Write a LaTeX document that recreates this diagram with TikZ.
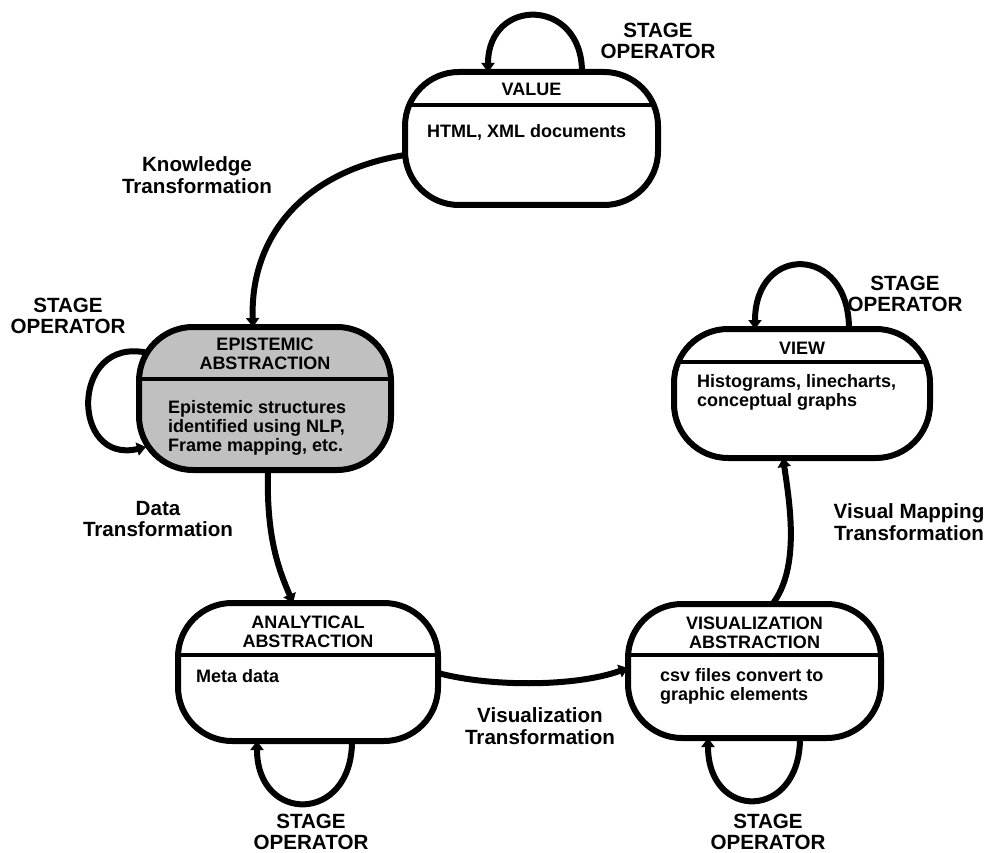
\documentclass[tikz,border=0pt]{standalone}
\usepackage{fontspec}
\setmainfont{Liberation Sans}
\usetikzlibrary{arrows.meta}
\definecolor{epigray}{RGB}{192,192,192}

\begin{document}
\begin{tikzpicture}[x=1pt,y=-1pt,
  statebox/.style={draw=black, line width=6pt, rounded corners=54pt,
    inner sep=0pt, outer sep=0pt, fill=white},
  divider/.style={line width=4pt},
  flow/.style={line width=6pt, -{Triangle[width=13pt,length=9pt]}},
  head/.style={font=\bfseries\fontsize{18}{19.5}\selectfont, align=center, inner sep=0pt},
  body/.style={font=\bfseries\fontsize{18}{18.8}\selectfont, align=left,
    anchor=base west, inner sep=0pt},
  lbl/.style={font=\bfseries\fontsize{20.6}{21.5}\selectfont, align=center, inner sep=0pt},
]
\useasboundingbox (0,0) rectangle (993,853);

% ---------- state boxes ----------
\node[statebox, minimum width=253pt, minimum height=133pt] (value) at (531.5,138.5) {};
\node[statebox, fill=epigray, minimum width=252pt, minimum height=143pt] (epi) at (265,398.5) {};
\node[statebox, minimum width=260pt, minimum height=138pt] (anal) at (308,672) {};
\node[statebox, minimum width=253pt, minimum height=134pt] (visu) at (754.5,671) {};
\node[statebox, minimum width=256pt, minimum height=129pt] (view) at (802,393.5) {};

% header dividers, clipped to the rounded outline of each box
\foreach \b/\h in {value/105, epi/379, anal/655, visu/655, view/362}{
  \begin{scope}
    \clip[rounded corners=54pt] (\b.north west) rectangle (\b.south east);
    \draw[divider] (\b.west |- 0,\h) -- (\b.east |- 0,\h);
  \end{scope}
}

% headers
\node[head] (valueH) at (531.5,89) {VALUE};
\node[head] (epiH) at (265,354) {EPISTEMIC\\ABSTRACTION};
\node[head] (analH) at (308,632) {ANALYTICAL\\ABSTRACTION};
\node[head] (visuH) at (754.5,633) {VISUALIZATION\\ABSTRACTION};
\node[head] (viewH) at (802,348) {VIEW};

% contents (base anchor sits on the last line)
\node[body] (valueB) at (427,138) {HTML, XML documents};
\node[body] (epiB) at (168,451) {Epistemic structures\\identified using NLP,\\Frame mapping, etc.};
\node[body] (analB) at (196,682) {Meta data};
\node[body] (visuB) at (660,700) {csv files convert to\\graphic elements};
\node[body] (viewB) at (697,406) {Histograms, linecharts,\\conceptual graphs};

% ---------- transformations ----------
\draw[flow] ([shift={(0,16.5)}]value.west)
  .. controls (300,172) and (250,240) .. ([shift={(-12,0)}]epi.north);
\draw[flow] ([shift={(3,0)}]epi.south)
  .. controls (266,540) and (280,572) .. ([shift={(-15,0)}]anal.north);
\draw[flow] ([shift={(0,1)}]anal.east)
  .. controls (490,687) and (575,687) .. ([shift={(0,-3)}]visu.west);
\draw[flow] ([shift={(18,0)}]visu.north)
  .. controls (800,568) and (790,505) .. ([shift={(-19,0)}]view.south);

% ---------- stage operators ----------
\draw[flow] ([shift={(50.5,0)}]value.north)
  .. controls (582,-3) and (488,-3) .. ([shift={(-43.5,0)}]value.north);
\draw[flow] ([shift={(9,-45.5)}]epi.west)
  .. controls (70,335) and (70,465) .. ([shift={(7,48.5)}]epi.west);
\draw[flow] ([shift={(47,0)}]view.north)
  .. controls (849,244) and (755,244) .. ([shift={(-47,0)}]view.north);
\draw[flow] ([shift={(44,0)}]anal.south)
  .. controls (352,824) and (257,824) .. ([shift={(-51,0)}]anal.south);
\draw[flow] ([shift={(45.5,0)}]visu.south)
  .. controls (800,821) and (708,821) .. ([shift={(-46.5,0)}]visu.south);

% ---------- labels ----------
\node[lbl] (opValue) at (658,41) {STAGE\\OPERATOR};
\node[lbl] (opEpi) at (68,316) {STAGE\\OPERATOR};
\node[lbl] (opView) at (905,294) {STAGE\\OPERATOR};
\node[lbl] (opAnal) at (311,832) {STAGE\\OPERATOR};
\node[lbl] (opVisu) at (768,832) {STAGE\\OPERATOR};
\node[lbl] (lblKnow) at (197,175) {Knowledge\\Transformation};
\node[lbl] (lblData) at (158,519) {Data\\Transformation};
\node[lbl] (lblVis) at (540,726) {Visualization\\Transformation};
\node[lbl] (lblMap) at (909,522) {Visual Mapping\\Transformation};
\end{tikzpicture}
\end{document}
